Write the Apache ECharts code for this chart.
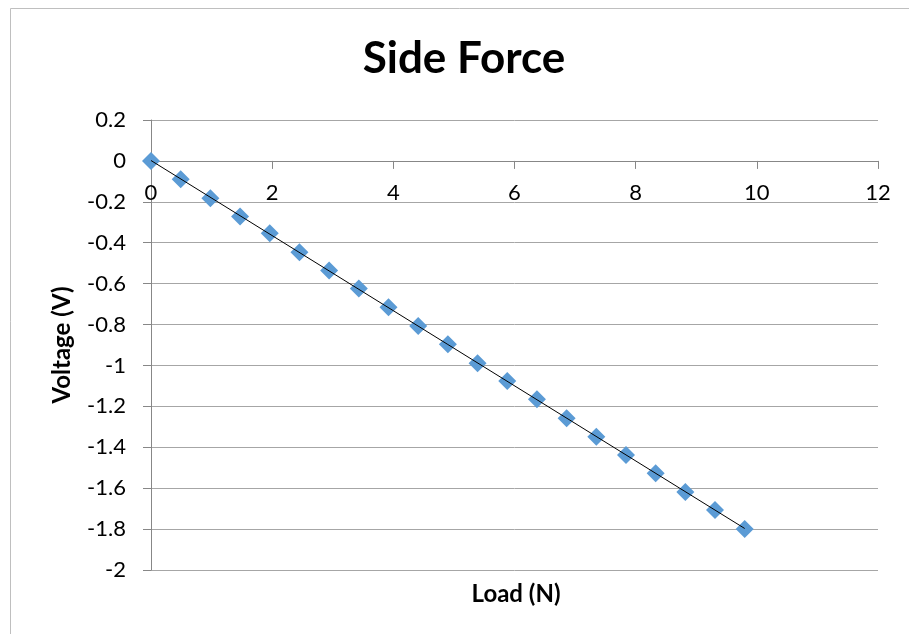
<!DOCTYPE html>
<html>
<head>
<meta charset="utf-8">
<script src="https://cdn.jsdelivr.net/npm/echarts@6/dist/echarts.min.js"></script>
<style>
html,body{margin:0;padding:0;background:#fff;}
#chart{width:909px;height:634px;}
</style>
</head>
<body>
<div id="chart"></div>
<script>
const titleText = "Side Force";
const xAxisTitle = "Load (N)";
const yAxisTitle = "Voltage (V)";
const loadN = [0, 0.49, 0.98, 1.47, 1.96, 2.45, 2.94, 3.43, 3.92, 4.41, 4.9, 5.39, 5.88, 6.37, 6.86, 7.35, 7.84, 8.33, 8.82, 9.31, 9.8];
const voltage = [0, -0.09, -0.182, -0.272, -0.354, -0.446, -0.536, -0.624, -0.715, -0.807, -0.896, -0.989, -1.076, -1.165, -1.258, -1.348, -1.438, -1.527, -1.619, -1.707, -1.8];
const xTicks = {min: 0, max: 12, interval: 2};
const yTicks = {min: -2, max: 0.2, interval: 0.2};

// linear trendline (least squares) computed from the data
const n = loadN.length;
let sx = 0, sy = 0, sxx = 0, sxy = 0;
for (let i = 0; i < n; i++) { sx += loadN[i]; sy += voltage[i]; sxx += loadN[i]*loadN[i]; sxy += loadN[i]*voltage[i]; }
const slope = (n*sxy - sx*sy) / (n*sxx - sx*sx);
const icpt = (sy - slope*sx) / n;
const xMin = Math.min(...loadN), xMax = Math.max(...loadN);
const trend = [[xMin, icpt + slope*xMin], [xMax, icpt + slope*xMax]];

const FONT = 'Lato, "Liberation Sans", sans-serif';
const GRID = {left: 151, right: 31, top: 120, bottom: 64};
const plotH = 634 - GRID.top - GRID.bottom;
// x axis crosses the y axis at value 0 (Excel style)
const zeroOffset = -plotH * (0 - yTicks.min) / (yTicks.max - yTicks.min);

const chart = echarts.init(document.getElementById('chart'), null, {renderer: 'canvas'});
chart.setOption({
  animation: false,
  backgroundColor: '#ffffff',
  textStyle: {fontFamily: FONT},
  grid: Object.assign({containLabel: false}, GRID),
  xAxis: {
    type: 'value', min: xTicks.min, max: xTicks.max, interval: xTicks.interval,
    position: 'bottom', offset: zeroOffset,
    axisLine: {show: true, onZero: false, lineStyle: {color: '#878787', width: 1}},
    axisTick: {show: true, length: 8, lineStyle: {color: '#878787'}},
    axisLabel: {color: '#000', fontSize: 22, fontFamily: FONT, margin: 21},
    splitLine: {show: false}
  },
  yAxis: {
    type: 'value', min: yTicks.min, max: yTicks.max, interval: yTicks.interval,
    name: yAxisTitle, nameLocation: 'middle', nameGap: 77, nameRotate: 90,
    nameTextStyle: {color: '#000', fontSize: 24, fontWeight: 'bold', fontFamily: FONT},
    axisLine: {show: true, onZero: false, lineStyle: {color: '#878787', width: 1}},
    axisTick: {show: true, length: 8, lineStyle: {color: '#878787'}},
    axisLabel: {color: '#000', fontSize: 22, fontFamily: FONT, margin: 25,
      formatter: v => String(+v.toFixed(1))},
    splitLine: {show: true, lineStyle: {color: '#a6a6a6', width: 1}}
  },
  graphic: [
    {type: 'polyline', silent: true, shape: {points: [[10.5, 634], [10.5, 8.5], [909, 8.5]]},
     style: {stroke: '#bfbfbf', lineWidth: 1, fill: null}},
    {type: 'text', x: 464, y: 59, style: {text: titleText, fontSize: 44, fontWeight: 'bold', fontFamily: FONT, fill: '#000', textAlign: 'center', textVerticalAlign: 'middle'}},
    {type: 'text', x: 516, y: 594, style: {text: xAxisTitle, fontSize: 24, fontWeight: 'bold', fontFamily: FONT, fill: '#000', textAlign: 'center', textVerticalAlign: 'middle'}}
  ],
  series: [
    {type: 'scatter', data: loadN.map((x, i) => [x, voltage[i]]), symbol: 'diamond', symbolSize: 18,
     itemStyle: {color: '#5b9bd5', opacity: 1}, z: 2},
    {type: 'line', data: trend, symbol: 'none', lineStyle: {color: '#000', width: 1}, z: 3}
  ]
});
</script>
</body>
</html>
